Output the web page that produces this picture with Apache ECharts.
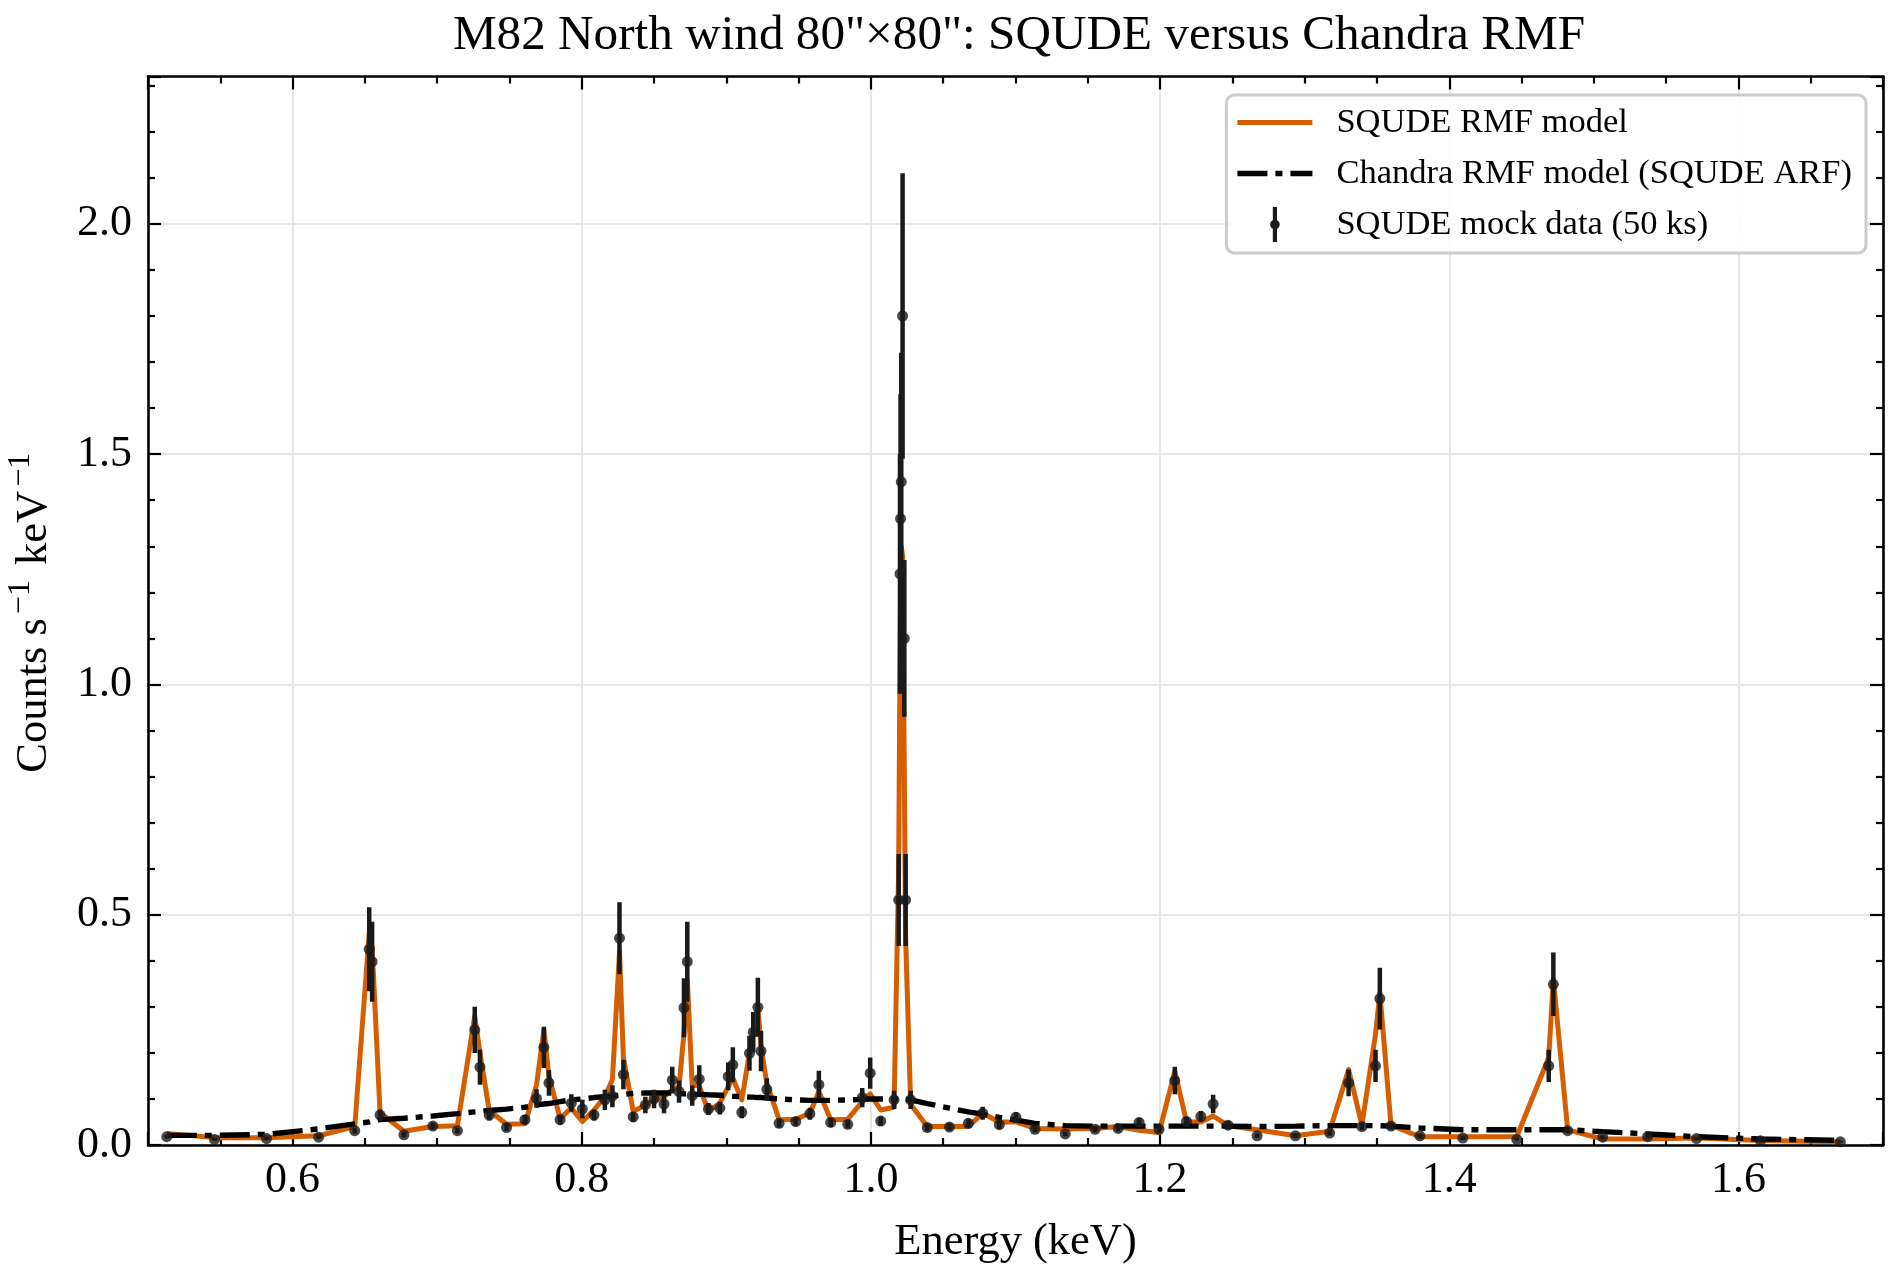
<!DOCTYPE html>
<html>
<head>
<meta charset="utf-8">
<title>M82 North wind: SQUDE versus Chandra RMF</title>
<script src="https://cdn.jsdelivr.net/npm/echarts@6/dist/echarts.min.js"></script>
<style>
  html, body { margin: 0; padding: 0; background: #ffffff; }
  #chart { width: 1900px; height: 1278px; }
</style>
</head>
<body>
<div id="chart"></div>
<script>
// bin centres (keV)
var energy = [
  0.513, 0.546, 0.582, 0.618, 0.643, 0.653, 0.655, 0.6605, 0.677, 0.697,
  0.714, 0.726, 0.7296, 0.736, 0.748, 0.7607, 0.7687, 0.7738, 0.7773, 0.785,
  0.7928, 0.8004, 0.8085, 0.816, 0.8212, 0.8261, 0.8288, 0.8356, 0.844, 0.85,
  0.8569, 0.8626, 0.8673, 0.8707, 0.873, 0.8764, 0.8813, 0.8876, 0.8955, 0.9013,
  0.9045, 0.9107, 0.916, 0.9186, 0.9218, 0.924, 0.928, 0.9365, 0.948, 0.9578,
  0.964, 0.9722, 0.984, 0.994, 0.9995, 1.0068, 1.016, 1.0192, 1.0201, 1.0205,
  1.021, 1.0219, 1.0231, 1.024, 1.0275, 1.039, 1.0543, 1.0674, 1.0773, 1.0888,
  1.1003, 1.1135, 1.1344, 1.1551, 1.171, 1.1855, 1.1993, 1.2102, 1.2183, 1.2282,
  1.2367, 1.247, 1.2671, 1.2936, 1.3173, 1.3304, 1.3396, 1.349, 1.352, 1.3597,
  1.3797, 1.4094, 1.4467, 1.4688, 1.472, 1.4819, 1.5061, 1.5372, 1.571, 1.6153,
  1.6705
];

// SQUDE RMF folded model
var squdeModel = [
  0.025, 0.016, 0.016, 0.020, 0.040, 0.46, 0.43, 0.070, 0.030, 0.040,
  0.042, 0.28, 0.20, 0.075, 0.045, 0.046, 0.13, 0.25, 0.15, 0.058,
  0.080, 0.051, 0.076, 0.105, 0.142, 0.42, 0.19, 0.073, 0.087, 0.098,
  0.105, 0.120, 0.127, 0.243, 0.36, 0.130, 0.128, 0.073, 0.091, 0.127,
  0.145, 0.098, 0.200, 0.250, 0.300, 0.214, 0.134, 0.055, 0.056, 0.069,
  0.116, 0.055, 0.056, 0.094, 0.111, 0.076, 0.082, 0.60, 1.05, 1.20,
  1.30, 1.28, 0.80, 0.45, 0.088, 0.040, 0.040, 0.040, 0.069, 0.050,
  0.050, 0.036, 0.035, 0.036, 0.040, 0.032, 0.027, 0.160, 0.050, 0.050,
  0.063, 0.042, 0.033, 0.020, 0.030, 0.164, 0.043, 0.24, 0.33, 0.043,
  0.018, 0.018, 0.018, 0.19, 0.36, 0.033, 0.013, 0.013, 0.015, 0.010,
  0.007
];

// Chandra RMF folded model (SQUDE ARF)
var chandraModel = [
  0.021, 0.021, 0.023, 0.035, 0.046, 0.050, 0.052, 0.055, 0.058, 0.063,
  0.068, 0.072, 0.073, 0.075, 0.078, 0.082, 0.087, 0.089, 0.090, 0.094,
  0.098, 0.100, 0.103, 0.105, 0.106, 0.108, 0.110, 0.112, 0.113, 0.113,
  0.113, 0.113, 0.112, 0.111, 0.111, 0.110, 0.110, 0.109, 0.108, 0.107,
  0.106, 0.105, 0.104, 0.104, 0.103, 0.103, 0.102, 0.100, 0.098, 0.097,
  0.097, 0.097, 0.098, 0.099, 0.100, 0.100, 0.100, 0.100, 0.100, 0.100,
  0.100, 0.100, 0.100, 0.100, 0.098, 0.090, 0.080, 0.072, 0.067, 0.060,
  0.054, 0.047, 0.042, 0.041, 0.041, 0.041, 0.041, 0.041, 0.041, 0.041,
  0.041, 0.041, 0.040, 0.041, 0.042, 0.042, 0.042, 0.042, 0.042, 0.041,
  0.037, 0.033, 0.033, 0.033, 0.033, 0.033, 0.029, 0.024, 0.018, 0.013,
  0.010
];

// mock spectrum (counts s^-1 keV^-1) and 1-sigma errors
var mockRate = [
  0.018, 0.012, 0.014, 0.017, 0.031, 0.425, 0.398, 0.065, 0.022, 0.041,
  0.031, 0.250, 0.169, 0.065, 0.038, 0.055, 0.101, 0.212, 0.135, 0.055,
  0.091, 0.078, 0.065, 0.098, 0.106, 0.449, 0.153, 0.061, 0.087, 0.100,
  0.089, 0.141, 0.116, 0.298, 0.398, 0.107, 0.143, 0.078, 0.080, 0.149,
  0.174, 0.071, 0.199, 0.245, 0.299, 0.204, 0.121, 0.047, 0.051, 0.068,
  0.131, 0.049, 0.045, 0.103, 0.156, 0.052, 0.098, 0.532, 1.24, 1.36,
  1.44, 1.80, 1.10, 0.532, 0.098, 0.038, 0.039, 0.047, 0.069, 0.044,
  0.060, 0.034, 0.024, 0.034, 0.036, 0.049, 0.034, 0.140, 0.051, 0.062,
  0.089, 0.043, 0.020, 0.020, 0.026, 0.135, 0.040, 0.172, 0.318, 0.041,
  0.020, 0.015, 0.012, 0.172, 0.349, 0.031, 0.017, 0.018, 0.014, 0.009,
  0.007
];

var mockErr = [
  0.004, 0.003, 0.003, 0.004, 0.006, 0.091, 0.087, 0.012, 0.005, 0.008,
  0.006, 0.050, 0.038, 0.012, 0.008, 0.010, 0.020, 0.045, 0.028, 0.011,
  0.019, 0.020, 0.012, 0.022, 0.024, 0.078, 0.032, 0.011, 0.018, 0.020,
  0.020, 0.029, 0.024, 0.064, 0.087, 0.022, 0.030, 0.013, 0.014, 0.030,
  0.038, 0.013, 0.038, 0.044, 0.064, 0.044, 0.024, 0.009, 0.010, 0.013,
  0.030, 0.010, 0.009, 0.021, 0.034, 0.010, 0.020, 0.100, 0.26, 0.27,
  0.28, 0.31, 0.17, 0.100, 0.020, 0.008, 0.008, 0.009, 0.014, 0.009,
  0.011, 0.007, 0.005, 0.007, 0.007, 0.010, 0.007, 0.030, 0.010, 0.012,
  0.020, 0.009, 0.005, 0.005, 0.006, 0.029, 0.008, 0.035, 0.067, 0.008,
  0.005, 0.004, 0.003, 0.035, 0.069, 0.006, 0.004, 0.004, 0.003, 0.002,
  0.002
];

var FONT = 'Liberation Serif, Times New Roman, serif';
var MODEL_NAME = 'SQUDE RMF model';
var CHANDRA_NAME = 'Chandra RMF model (SQUDE ARF)';
var DATA_NAME = 'SQUDE mock data (50 ks)';
var ORANGE = '#D55E00';
var INK = '#1a1a1a';

function pairs(ys) {
  return energy.map(function (e, i) { return [e, ys[i]]; });
}

var errData = energy.map(function (e, i) { return [e, mockRate[i], mockErr[i]]; });

var chart = echarts.init(document.getElementById('chart'), null, { renderer: 'canvas' });

var tickStyle = { color: '#000', width: 2.2 };

var option = {
  animation: false,
  backgroundColor: '#ffffff',
  title: {
    text: 'M82 North wind 80"\u00d780": SQUDE versus Chandra RMF',
    left: 1014,
    top: 7,
    textAlign: 'center',
    textStyle: { fontFamily: FONT, fontSize: 49.2, fontWeight: 'normal', color: '#000' }
  },
  grid: { left: 148, right: 17, top: 76.5, bottom: 133, containLabel: false, outerBoundsMode: 'none' },
  legend: {
    orient: 'vertical',
    right: 34,
    top: 95,
    padding: [10, 14, 11, 11],
    itemGap: 16,
    itemWidth: 75,
    itemHeight: 35,
    backgroundColor: 'rgba(255,255,255,0.85)',
    borderColor: '#cccccc',
    borderWidth: 3,
    borderRadius: 8,
    selectedMode: false,
    textStyle: { fontFamily: FONT, fontSize: 34.5, color: '#000', padding: [0, 0, 0, 19] },
    data: [
      { name: MODEL_NAME, icon: 'path://M0,0H75V5H0Z' },
      { name: CHANDRA_NAME, icon: 'path://M0,0H30V5.4H0Z M38,0H45V5.4H38Z M53,0H75V5.4H53Z' },
      { name: DATA_NAME, icon: 'path://M7.6,0 H12.4 V40 H7.6 Z M10,14.5 A5.5,5.5 0 1,1 9.99,14.5 Z' }
    ]
  },
  xAxis: [
    {
      type: 'value',
      min: 0.5,
      max: 1.7,
      splitNumber: 6,
      name: 'Energy (keV)',
      nameLocation: 'middle',
      nameGap: 75,
      nameTextStyle: { fontFamily: FONT, fontSize: 44.5, color: '#000' },
      axisLine: { show: true, onZero: false, lineStyle: { color: '#000', width: 2.6 } },
      axisTick: { show: true, inside: true, length: 13, lineStyle: tickStyle },
      minorTick: { show: true, splitNumber: 4, length: 7, lineStyle: tickStyle },
      axisLabel: {
        fontFamily: FONT, fontSize: 44, color: '#000', margin: 13,
        showMinLabel: false, showMaxLabel: false,
        formatter: function (v) { return v.toFixed(1); }
      },
      splitLine: { show: true, lineStyle: { color: '#e6e6e6', width: 2 } }
    },
    {
      type: 'value',
      position: 'top',
      min: 0.5,
      max: 1.7,
      splitNumber: 6,
      axisLine: { show: true, onZero: false, lineStyle: { color: '#000', width: 2.6 } },
      axisTick: { show: true, inside: true, length: 13, lineStyle: tickStyle },
      minorTick: { show: true, splitNumber: 4, length: 7, lineStyle: tickStyle },
      axisLabel: { show: false },
      splitLine: { show: false }
    }
  ],
  yAxis: [
    {
      type: 'value',
      min: 0,
      max: 2.32,
      interval: 0.5,
      name: 'Counts s{sup|\u22121} keV{sup|\u22121}',
      nameLocation: 'middle',
      nameGap: 85,
      nameTextStyle: {
        fontFamily: FONT, fontSize: 44.5, color: '#000',
        rich: { sup: { fontFamily: FONT, fontSize: 32, color: '#000', padding: [0, 4, 26, 4] } }
      },
      axisLine: { show: true, onZero: false, lineStyle: { color: '#000', width: 2.6 } },
      axisTick: { show: true, inside: true, length: 13, lineStyle: tickStyle },
      minorTick: { show: true, splitNumber: 5, length: 7, lineStyle: tickStyle },
      axisLabel: {
        fontFamily: FONT, fontSize: 44, color: '#000', margin: 16,
        showMaxLabel: false,
        formatter: function (v) { return v.toFixed(1); }
      },
      splitLine: { show: true, lineStyle: { color: '#e6e6e6', width: 2 } }
    },
    {
      type: 'value',
      position: 'right',
      min: 0,
      max: 2.32,
      interval: 0.5,
      axisLine: { show: true, onZero: false, lineStyle: { color: '#000', width: 2.6 } },
      axisTick: { show: true, inside: true, length: 13, lineStyle: tickStyle },
      minorTick: { show: true, splitNumber: 5, length: 7, lineStyle: tickStyle },
      axisLabel: { show: false },
      splitLine: { show: false }
    }
  ],
  series: [
    {
      name: MODEL_NAME,
      type: 'line',
      data: pairs(squdeModel),
      symbol: 'none',
      silent: true,
      z: 2,
      color: ORANGE,
      lineStyle: { color: ORANGE, width: 5, join: 'round' }
    },
    {
      name: CHANDRA_NAME,
      type: 'line',
      data: pairs(chandraModel),
      symbol: 'none',
      silent: true,
      z: 3,
      color: '#000000',
      lineStyle: { color: '#000000', width: 5.4, type: [30, 8, 7, 8] }
    },
    {
      name: DATA_NAME,
      type: 'custom',
      data: errData,
      silent: true,
      z: 4,
      clip: true,
      color: INK,
      itemStyle: { color: INK },
      encode: { x: 0, y: 1 },
      renderItem: function (params, api) {
        var x = api.value(0), y = api.value(1), e = api.value(2);
        var lo = api.coord([x, y - e]);
        var hi = api.coord([x, y + e]);
        return {
          type: 'line',
          shape: { x1: lo[0], y1: lo[1], x2: hi[0], y2: hi[1] },
          style: { stroke: INK, lineWidth: 4.5 }
        };
      }
    },
    {
      name: DATA_NAME,
      type: 'scatter',
      data: pairs(mockRate),
      symbol: 'circle',
      symbolSize: 11,
      silent: true,
      z: 5,
      color: INK,
      itemStyle: { color: INK }
    }
  ]
};

chart.setOption(option);
</script>
</body>
</html>
